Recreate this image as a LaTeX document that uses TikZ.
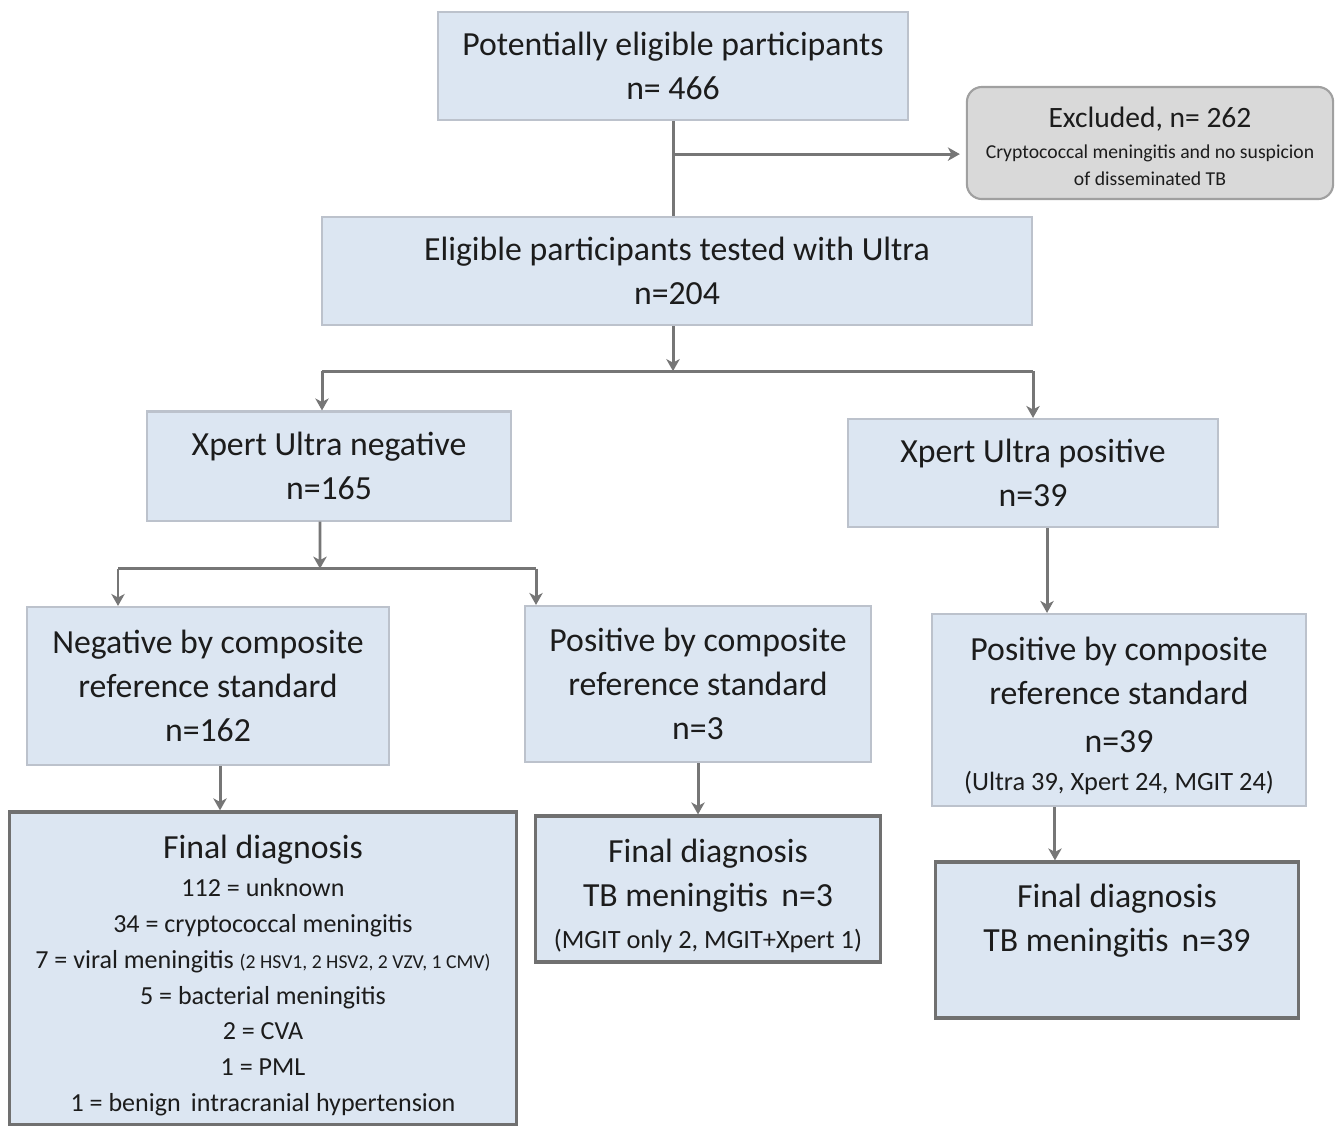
\documentclass[tikz,border=0pt]{standalone}
\usepackage{fontspec}
\setmainfont{Carlito}
\usetikzlibrary{arrows.meta,calc}
\definecolor{boxfill}{RGB}{220,230,242}
\definecolor{boxline}{RGB}{188,194,204}
\definecolor{finalline}{RGB}{112,112,112}
\definecolor{exclfill}{RGB}{217,217,217}
\definecolor{exclline}{RGB}{160,160,160}
\definecolor{connline}{RGB}{118,118,118}
\definecolor{textcol}{RGB}{28,28,28}
\newcommand{\mainsize}{\fontsize{9.6}{12.5}\selectfont}
\newcommand{\exclsize}{\fontsize{8.4}{10}\selectfont}
\newcommand{\smallsize}{\fontsize{5.6}{7.9}\selectfont}
\newcommand{\listsize}{\fontsize{7.4}{10.2}\selectfont}
\newcommand{\notesize}{\fontsize{7.5}{11}\selectfont}
\newcommand{\tinysize}{\fontsize{5.6}{6}\selectfont}
\begin{document}
\begin{tikzpicture}[x=0.01cm, y=-0.01cm,
  box/.style={draw=boxline, line width=0.6pt, fill=boxfill, align=center, inner sep=0pt, text=textcol, font=\mainsize},
  finalbox/.style={box, draw=finalline, line width=0.9pt},
  exclbox/.style={box, draw=exclline, fill=exclfill, rounded corners=0.15cm},
  conn/.style={draw=connline, line width=0.85pt},
  arrow/.style={conn, -{Stealth[length=3.4pt, width=3.8pt, inset=1pt]}}]
\fill[white] (0,0) rectangle (1340,1126);
\useasboundingbox (0,0) rectangle (1340,1126);

\node[box, minimum width=4.70cm, minimum height=1.08cm] (potential) at (673,66) {Potentially eligible participants\\n= 466};
\node[exclbox, minimum width=3.66cm, minimum height=1.12cm, font=\smallsize] (excluded) at (1150,143) {{\exclsize\rule{0pt}{7.8pt}Excluded, n= 262}\\[0.8pt]Cryptococcal meningitis and no suspicion\\of disseminated TB};
\node[box, minimum width=7.10cm, minimum height=1.08cm] (eligible) at (677,271) {Eligible participants tested with Ultra\\n=204};
\node[box, minimum width=3.64cm, minimum height=1.09cm] (negative) at (329,466) {Xpert Ultra negative\\n=165};
\node[box, minimum width=3.69cm, minimum height=1.08cm] (positive) at (1033,473) {Xpert Ultra positive\\n=39};
\node[box, minimum width=3.62cm, minimum height=1.58cm] (negcrs) at (208,686) {Negative by composite\\reference standard\\n=162};
\node[box, minimum width=3.46cm, minimum height=1.56cm] (poscrs) at (698,684) {Positive by composite\\reference standard\\n=3};
\node[box, minimum width=3.74cm, minimum height=1.92cm] (poscrsult) at (1119,710) {\rule{0pt}{10pt}Positive by composite\\reference standard\\[1.1pt]n=39\\[-1.7pt]{\notesize (Ultra 39, Xpert 24, MGIT 24)}};
\node[finalbox, minimum width=5.07cm, minimum height=3.12cm, font=\listsize] (finalneg) at (263,968) {{\mainsize\rule{0pt}{11pt}Final diagnosis}\\[0.6pt]112 = unknown\\34 = cryptococcal meningitis\\7 = viral meningitis {\tinysize (2 HSV1, 2 HSV2, 2 VZV, 1 CMV)}\\5 = bacterial meningitis\\2 = CVA\\1 = PML\\1 = benign\, intracranial hypertension};
\node[finalbox, minimum width=3.45cm, minimum height=1.46cm] (finalmiss) at (708,889) {\rule{0pt}{10.6pt}Final diagnosis\\TB meningitis\, n=3\\[-0.8pt]{\notesize (MGIT only 2, MGIT+Xpert 1)}};
\node[finalbox, minimum width=3.63cm, minimum height=1.56cm] (finalpos) at (1117,940) {Final diagnosis\\TB meningitis\, n=39\\\mbox{}};

\coordinate (exclsplit) at ($(potential.south)+(0,33)$);
\draw[conn] (potential.south) -- (potential.south |- eligible.north);
\draw[arrow] (exclsplit) -- ([xshift=-0.06cm]exclsplit -| excluded.west);

\coordinate (ultrasplit) at ($(potential.south |- eligible.south)+(0,45)$);
\draw[arrow] (potential.south |- eligible.south) -- (ultrasplit);
\draw[conn] (ultrasplit -| 322,0) -- (ultrasplit -| positive.north);
\draw[arrow] (ultrasplit -| 322,0) -- (negative.north -| 322,0);
\draw[arrow] (ultrasplit -| positive.north) -- (positive.north);

\coordinate (negsplit) at ($(negative.south)+(-9,47)$);
\coordinate (negsplitL) at (negsplit -| 118,0);
\coordinate (negsplitR) at (negsplit -| 536,0);
\draw[arrow] ([xshift=-0.09cm]negative.south) -- (negsplit);
\draw[conn] (negsplitL) -- (negsplitR);
\draw[arrow] (negsplitL) -- (negsplitL |- negcrs.north);
\draw[arrow] (negsplitR) -- (negsplitR |- poscrs.north);

\draw[arrow] ([xshift=0.14cm]positive.south) -- ([xshift=0.14cm]positive.south |- poscrsult.north);
\draw[arrow] ([xshift=0.12cm]negcrs.south) -- ([xshift=0.12cm]negcrs.south |- finalneg.north);
\draw[arrow] (poscrs.south) -- (poscrs.south |- finalmiss.north);
\draw[arrow] ([xshift=-0.64cm]poscrsult.south) -- ([xshift=-0.64cm]poscrsult.south |- finalpos.north);
\end{tikzpicture}
\end{document}
